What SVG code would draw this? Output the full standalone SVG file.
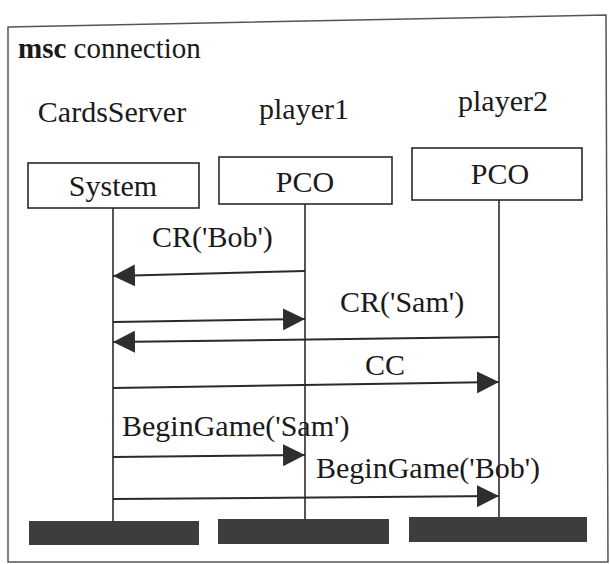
<svg xmlns="http://www.w3.org/2000/svg" width="610" height="564" viewBox="0 0 610 564">
<style>
.box{fill:#fff;stroke:#2a2a2a;stroke-width:1.6}
.life{stroke:#2a2a2a;stroke-width:1.6;fill:none}
.msg{stroke:#2a2a2a;stroke-width:2;fill:none;marker-end:url(#ah)}
.stop{fill:#3d3d3d}
</style>
<defs>
<marker id="ah" viewBox="0 0 22 22" refX="22" refY="11" markerWidth="22" markerHeight="22" markerUnits="userSpaceOnUse" orient="auto">
<path d="M0,0 L22,11 L0,22 Z" fill="#2e2e2e"/>
</marker>
</defs>
<rect width="610" height="564" fill="#fff"/>
<path d="M8,27 L606,15 L608,562 L8,562 Z" fill="none" stroke="#555" stroke-width="1.5"/>
<text x="18" y="58" font-family="Times New Roman" font-size="29" fill="#1a1a1a"><tspan font-weight="bold">msc</tspan> connection</text>

<g id="cardsserver">
<text font-family="Times New Roman" font-size="30" fill="#1a1a1a" text-anchor="middle" x="112" y="122">CardsServer</text>
<rect class="box" x="28" y="163" width="171" height="45"/>
<text font-family="Times New Roman" font-size="30" fill="#1a1a1a" text-anchor="middle" x="113" y="196">System</text>
<line class="life" x1="113" y1="208" x2="113" y2="521"/>
<rect class="stop" x="29" y="521" width="170" height="24"/>
</g>
<g id="player1">
<text font-family="Times New Roman" font-size="30" fill="#1a1a1a" text-anchor="middle" x="304" y="119">player1</text>
<rect class="box" x="219" y="157" width="173" height="47"/>
<text font-family="Times New Roman" font-size="30" fill="#1a1a1a" text-anchor="middle" x="305" y="192">PCO</text>
<line class="life" x1="305" y1="204" x2="305" y2="519"/>
<rect class="stop" x="218" y="519" width="171" height="25"/>
</g>
<g id="player2">
<text font-family="Times New Roman" font-size="30" fill="#1a1a1a" text-anchor="middle" x="503" y="111">player2</text>
<rect class="box" x="412" y="148" width="170" height="52"/>
<text font-family="Times New Roman" font-size="30" fill="#1a1a1a" text-anchor="middle" x="500" y="184">PCO</text>
<line class="life" x1="499" y1="200" x2="499" y2="517"/>
<rect class="stop" x="409" y="517" width="178" height="25"/>
</g>

<g id="connectors">
<line class="msg" x1="305" y1="271" x2="113" y2="276"/>
<text font-family="Times New Roman" font-size="30" fill="#1a1a1a" x="152" y="247">CR('Bob')</text>
<line class="msg" x1="113" y1="322" x2="305" y2="319"/>
<text font-family="Times New Roman" font-size="30" fill="#1a1a1a" x="340" y="312">CR('Sam')</text>
<line class="msg" x1="499" y1="337" x2="113" y2="342"/>
<line class="msg" x1="113" y1="388" x2="499" y2="382"/>
<text font-family="Times New Roman" font-size="30" fill="#1a1a1a" x="365" y="375">CC</text>
<line class="msg" x1="113" y1="457" x2="305" y2="455"/>
<text font-family="Times New Roman" font-size="30" fill="#1a1a1a" x="122" y="436">BeginGame('Sam')</text>
<line class="msg" x1="113" y1="499" x2="499" y2="496"/>
<text font-family="Times New Roman" font-size="30" fill="#1a1a1a" x="316" y="478">BeginGame('Bob')</text>
</g>
</svg>
